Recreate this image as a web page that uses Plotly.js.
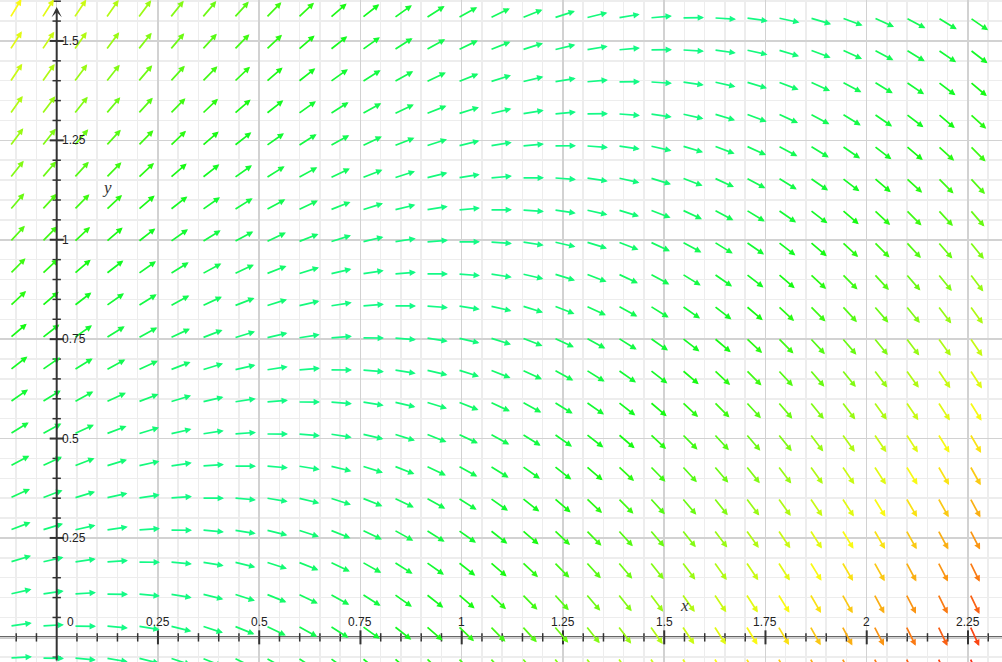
<!DOCTYPE html>
<html>
<head>
<meta charset="utf-8">
<script src="https://cdn.plot.ly/plotly-3.0.1.min.js"></script>
<style>html,body{margin:0;padding:0;background:#fff;overflow:hidden;}#chart{width:1002px;height:662px;}</style>
</head>
<body>
<div id="chart"></div>
<script>
// Slope field of dy/dx = y - x
const gridX = [-0.1153,-0.0363,0.0427,0.1217,0.2007,0.2798,0.3588,0.4378,0.5168,0.5958,0.6748,0.7538,0.8328,0.9119,0.9909,1.0699,1.1489,1.2279,1.3069,1.3859,1.4649,1.5440,1.6230,1.7020,1.7810,1.8600,1.9390,2.0180,2.0970,2.1760,2.2551,2.3341];
const gridY = [-0.0521,0.0284,0.1089,0.1894,0.2699,0.3504,0.4309,0.5115,0.5920,0.6725,0.7530,0.8335,0.9140,0.9945,1.0750,1.1555,1.2360,1.3165,1.3970,1.4775,1.5580];
function slope(x, y) { return y - x; }

const xTickVals = [0.25,0.5,0.75,1,1.25,1.5,1.75,2,2.25];
const xTickText = ['0.25','0.5','0.75','1','1.25','1.5','1.75','2','2.25'];
const yTickVals = [0.25,0.5,0.75,1,1.25,1.5];
const yTickText = ['0.25','0.5','0.75','1','1.25','1.5'];
const originLabel = '0';
const axisLabels = {x: 'x', y: 'y'};

const xMin = -0.14, xMax = 2.334, yMin = -0.062, yMax = 1.603;
const W = 1002, H = 662;
const sx = W / (xMax - xMin), sy = H / (yMax - yMin);
const L = 22;

function hsv(h, s, v) {
  const c = v * s, hp = h / 60, xx = c * (1 - Math.abs(hp % 2 - 1)), m = v - c;
  let r=0,g=0,b=0;
  if (hp < 1) { r=c; g=xx; } else if (hp < 2) { r=xx; g=c; } else if (hp < 3) { g=c; b=xx; }
  else if (hp < 4) { g=xx; b=c; } else if (hp < 5) { r=xx; b=c; } else { r=c; b=xx; }
  return 'rgb(' + Math.round((r+m)*255) + ',' + Math.round((g+m)*255) + ',' + Math.round((b+m)*255) + ')';
}
function colorFor(f) {
  const mag = Math.sqrt(1 + f*f);
  const h = Math.max(0, Math.min(150, 150 - 95*(mag - 1)));
  return hsv(h, 0.92, 0.98);
}

const annotations = [];
gridX.forEach(x => {
  gridY.forEach(y => {
    const f = slope(x, y);
    const n = Math.sqrt(sx*sx + (sy*f)*(sy*f));
    annotations.push({
      x: x + L / n, y: y + L * f / n, ax: x, ay: y,
      xref: 'x', yref: 'y', axref: 'x', ayref: 'y',
      text: '', showarrow: true, arrowhead: 2, arrowsize: 0.75, arrowwidth: 1.7,
      arrowcolor: colorFor(f), standoff: 0
    });
  });
});

// y axis with arrowhead
annotations.push({x: 0, y: yMax - 7/sy, ax: 0, ay: yMin, xref:'x', yref:'y', axref:'x', ayref:'y',
  text:'', showarrow:true, arrowhead:3, arrowsize:0.85, arrowwidth:2, arrowcolor:'#333', standoff:0});

const labFont = {family: 'Liberation Sans, Arial, sans-serif', size: 12, color: '#222'};
xTickVals.forEach((v, i) => annotations.push({x: v, y: 0, xref:'x', yref:'y', text: xTickText[i], showarrow:false,
  xanchor:'center', yanchor:'bottom', yshift: 6, font: labFont}));
annotations.push({x: 0, y: 0, xref:'x', yref:'y', text: originLabel, showarrow:false, xanchor:'left', yanchor:'bottom', xshift: 8, yshift: 6, font: labFont});
yTickVals.forEach((v, i) => annotations.push({x: 0, y: v, xref:'x', yref:'y', text: yTickText[i], showarrow:false,
  xanchor:'left', yanchor:'middle', xshift: 3, font: labFont}));
const axFont = {family: 'Liberation Serif, Times New Roman, serif', size: 17, color: '#333'};
annotations.push({x: 1.551, y: 0.081, xref:'x', yref:'y', text: '<i>' + axisLabels.x + '</i>', showarrow:false, font: axFont});
annotations.push({x: 0.124, y: 1.131, xref:'x', yref:'y', text: '<i>' + axisLabels.y + '</i>', showarrow:false, font: axFont});

// axis tick marks
const xMinorT = [], xMajorT = [], yMinorT = [], yMajorT = [];
for (let k = -2; k <= 46; k++) { const v = +(k*0.05).toFixed(2); if (k === 0) continue; (k % 5 === 0 ? xMajorT : xMinorT).push(v); }
for (let k = -1; k <= 32; k++) { const v = +(k*0.05).toFixed(2); if (k === 0) continue; (k % 5 === 0 ? yMajorT : yMinorT).push(v); }

const traces = [
  {x: xMinorT, y: xMinorT.map(()=>0), mode:'markers', type:'scatter', marker:{symbol:'line-ns', size:6, line:{width:1.5, color:'#333'}}, hoverinfo:'skip'},
  {x: xMajorT, y: xMajorT.map(()=>0), mode:'markers', type:'scatter', marker:{symbol:'line-ns', size:10, line:{width:2, color:'#333'}}, hoverinfo:'skip'},
  {x: yMinorT.map(()=>0), y: yMinorT, mode:'markers', type:'scatter', marker:{symbol:'line-ew', size:6, line:{width:1.5, color:'#333'}}, hoverinfo:'skip'},
  {x: yMajorT.map(()=>0), y: yMajorT, mode:'markers', type:'scatter', marker:{symbol:'line-ew', size:10, line:{width:2, color:'#333'}}, hoverinfo:'skip'}
];

const layout = {
  width: W, height: H, margin: {l:0, r:0, t:0, b:0, pad:0},
  paper_bgcolor: '#fff', plot_bgcolor: '#fff', showlegend: false, hovermode: false,
  xaxis: {range: [xMin, xMax], tick0: 0, dtick: 0.25, showgrid: true, gridcolor: '#d2d2d2', gridwidth: 1.5,
    minor: {dtick: 0.05, tick0: 0, showgrid: true, gridcolor: '#ededed', gridwidth: 1.5},
    zeroline: false, showticklabels: false, ticks: '', showline: false, fixedrange: true},
  yaxis: {range: [yMin, yMax], tick0: 0, dtick: 0.25, showgrid: true, gridcolor: '#d2d2d2', gridwidth: 1.5,
    minor: {dtick: 0.05, tick0: 0, showgrid: true, gridcolor: '#ededed', gridwidth: 1.5},
    zeroline: false, showticklabels: false, ticks: '', showline: false, fixedrange: true},
  shapes: [{type:'line', xref:'x', yref:'y', x0: xMin, x1: xMax, y0: 0, y1: 0, line:{color:'#333', width:2}, layer:'below'}],
  annotations: annotations
};

Plotly.newPlot('chart', traces, layout, {staticPlot: true, displayModeBar: false});
</script>
</body>
</html>
